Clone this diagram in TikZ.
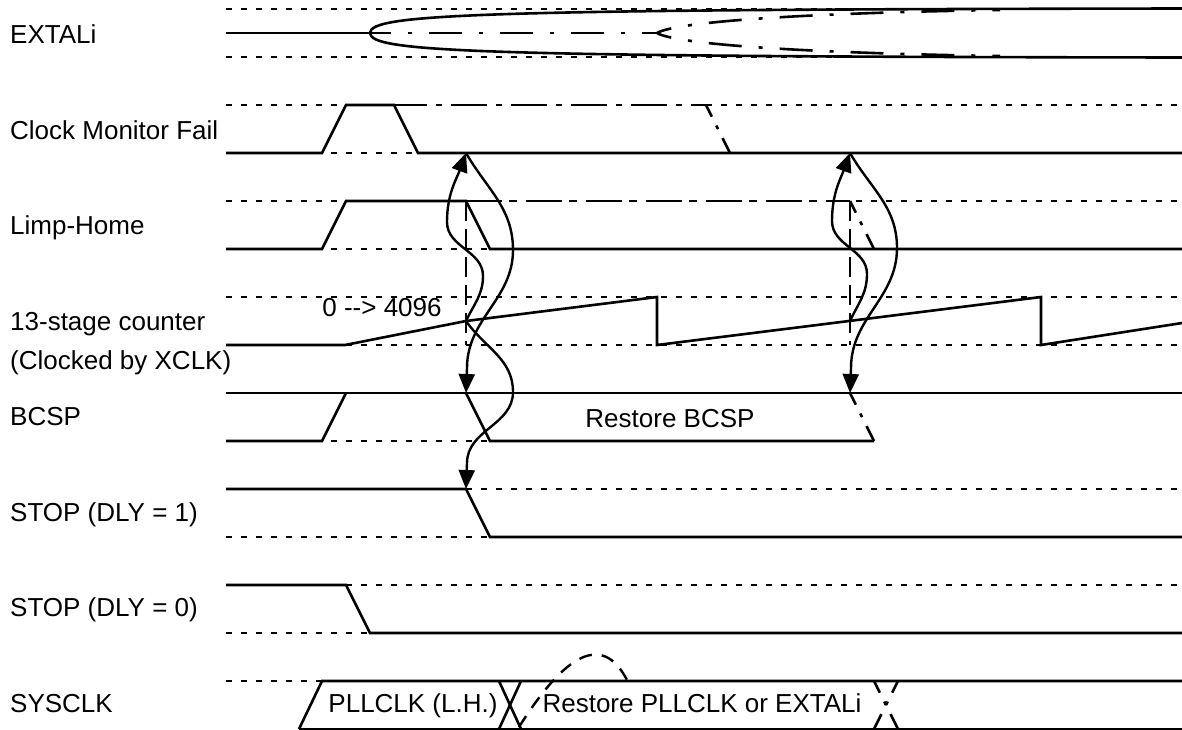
\documentclass[tikz,border=0pt]{standalone}
\usepackage{fontspec}
\setmainfont{Liberation Sans}
\usetikzlibrary{arrows.meta}
\begin{document}
\begin{tikzpicture}[x=1pt,y=-1pt,
  sig/.style={line width=2.6pt, line join=miter},
  dots/.style={line width=1.4pt, dash pattern=on 6pt off 9pt},
  ddash/.style={line width=2.6pt, dash pattern=on 30pt off 13pt on 4pt off 13pt},
  ddfall/.style={line width=2.6pt, dash pattern=on 13pt off 10pt on 4pt off 10pt on 40pt},
  ddx/.style={line width=2.6pt, dash pattern=on 33pt off 17pt on 4pt off 17pt, dash phase=18pt},
  vdash/.style={line width=2.6pt, dash pattern=on 20pt off 8pt},
  arcdash/.style={line width=2.4pt, dash pattern=on 13pt off 10pt},
  arr/.style={line width=2.4pt, -{Triangle[length=19pt,width=16pt]}},
  lbl/.style={font=\fontsize{26}{30}\selectfont, inner sep=0pt, anchor=base west},
  txt/.style={font=\fontsize{26}{30}\selectfont, inner sep=0pt, anchor=base},
]
\useasboundingbox (0,0) rectangle (1182,729);

% labels
\node[lbl] (lExt) at (10,43.5) {EXTALi};
\node[lbl] (lCmf) at (10,139.5) {Clock Monitor Fail};
\node[lbl] (lLh) at (10,234.5) {Limp-Home};
\node[lbl] (lCnt) at (10,330.5) {13-stage counter};
\node[lbl] (lCnt2) at (10,369.5) {(Clocked by XCLK)};
\node[lbl] (lBcsp) at (10,425.5) {BCSP};
\node[lbl] (lS1) at (10,521.5) {STOP (DLY = 1)};
\node[lbl] (lS0) at (10,616.5) {STOP (DLY = 0)};
\node[lbl] (lSys) at (10,712.5) {SYSCLK};

% dotted guide lines
\foreach \y in {9,57,105,153,201,249,297,345,489,537,585,633,681}
  \draw[dots] (226,\y) -- (1182,\y);
\draw[dots] (226,441) -- (874,441);

% EXTALi
\draw[sig] (226,33) -- (370,33);
\draw[sig] (370,33) .. controls (371,14) and (470,9.5) .. (1182,8.5);
\draw[sig] (370,33) .. controls (371,52) and (470,56.5) .. (1182,57.5);
\draw[ddx] (657,33) -- (370,33);
\draw[ddx] (657,33) .. controls (675,22) and (800,13) .. (1000,10);
\draw[ddx] (657,33) .. controls (675,44) and (800,53) .. (1000,56);

% Clock Monitor Fail
\draw[sig] (226,153) -- (322,153) -- (346,105) -- (394,105) -- (418,153) -- (1182,153);
\draw[ddash] (394,105) -- (706,105);
\draw[ddfall] (706,105) -- (730,153);

% Limp-Home
\draw[sig] (226,249) -- (322,249) -- (346,201) -- (466,201) -- (490,249) -- (1182,249);
\draw[ddash] (466,201) -- (850,201);
\draw[ddfall] (850,201) -- (874,249);
\draw[vdash] (466,201) -- (466,345);
\draw[vdash] (850,201) -- (850,345);

% 13-stage counter
\draw[sig] (226,345) -- (345,345) -- (466,321) -- (657,297) -- (657,345)
  -- (1041,297) -- (1041,345) -- (1182,323);
\node[txt] (tCnt) at (382,316) {0 -{}-> 4096};

% BCSP
\draw[sig] (226,393) -- (1182,393);
\draw[sig] (226,441) -- (322,441) -- (346,393);
\draw[sig] (466,393) -- (490,441) -- (874,441);
\draw[ddfall] (850,393) -- (874,441);
\node[txt] (tBcsp) at (670,427) {Restore BCSP};

% STOP (DLY = 1)
\draw[sig] (226,489) -- (466,489) -- (490,537) -- (1182,537);

% STOP (DLY = 0)
\draw[sig] (226,585) -- (346,585) -- (370,633) -- (1182,633);

% SYSCLK
\draw[sig] (299,729) -- (322,681) -- (1182,681);
\draw[sig] (299,729) -- (1182,729);
\draw[sig] (499,681) -- (521,729);
\draw[sig] (521,681) -- (499,729);
\draw[ddfall] (874,681) -- (898,729);
\draw[ddfall] (898,681) -- (874,729);
\draw[arcdash] (519,727) .. controls (558,665) and (600,625) .. (628,682);
\node[txt] (tPll) at (413,712.5) {PLLCLK (L.H.)};
\node[txt] (tRes) at (702,712.5) {Restore PLLCLK or EXTALi};

% event points
\coordinate (cmfA) at (466,153);
\coordinate (cntA) at (466,321);
\coordinate (bcA) at (466,393);
\coordinate (stA) at (466,489);
\coordinate (cmfB) at (850,153);
\coordinate (cntB) at (850,321);
\coordinate (bcB) at (850,393);

% causal arrows
\draw[arr] (cntA) to[out=65,in=-90] (483,276) to[out=90,in=-90] (447,222) to[out=90,in=-110] (cmfA);
\draw[arr] (cmfA) to[out=-60,in=90] (513,250) to[out=-90,in=90] (467,368) -- (bcA);
\draw[arr] (cntA) to[out=-55,in=90] (513,392) to[out=-90,in=90] (467,463) -- (stA);
\draw[arr] (cntB) to[out=65,in=-90] (867,274) to[out=90,in=-90] (832,221) to[out=90,in=-110] (cmfB);
\draw[arr] (cmfB) to[out=-60,in=90] (897,248) to[out=-90,in=90] (851,368) -- (bcB);
\end{tikzpicture}
\end{document}
